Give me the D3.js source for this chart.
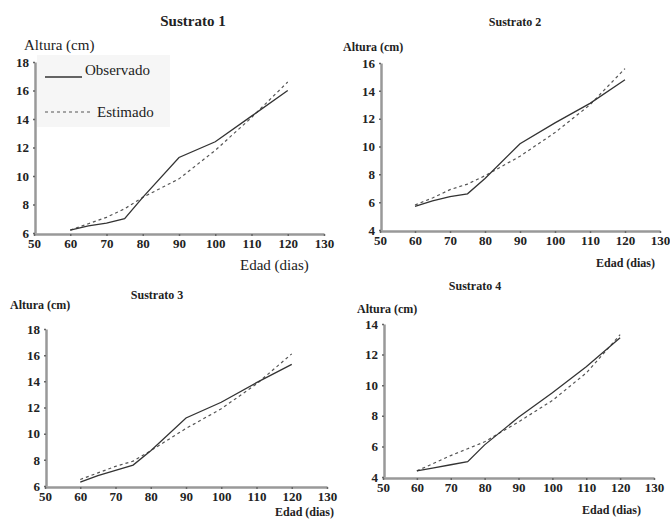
<!DOCTYPE html>
<html>
<head>
<meta charset="utf-8">
<script src="https://cdn.jsdelivr.net/npm/d3@7"></script>
<style>
  body { margin: 0; background: #fff; }
</style>
</head>
<body>
<script>
'use strict';

// edad (dias) where the curves are read
const dias = [60, 65, 70, 75, 80, 90, 100, 110, 120];

// altura (cm) per sustrato
const observado1 = [6.2, 6.5, 6.7, 7.0, 8.5, 11.3, 12.4, 14.2, 16.0];
const estimado1  = [6.2, 6.65, 7.1, 7.7, 8.5, 9.8, 11.8, 14.1, 16.6];
const observado2 = [5.7, 6.1, 6.4, 6.6, 7.7, 10.2, 11.7, 13.1, 14.8];
const estimado2  = [5.8, 6.3, 6.9, 7.3, 7.9, 9.3, 11.0, 13.0, 15.6];
const observado3 = [6.3, 6.8, 7.2, 7.6, 8.7, 11.2, 12.4, 13.9, 15.3];
const estimado3  = [6.5, 7.0, 7.5, 7.9, 8.7, 10.4, 11.9, 13.8, 16.1];
const observado4 = [4.4, 4.6, 4.8, 5.0, 6.1, 7.9, 9.5, 11.2, 13.1];
const estimado4  = [4.4, 4.9, 5.4, 5.85, 6.3, 7.6, 9.0, 10.8, 13.3];

const titulos = ["Sustrato 1", "Sustrato 2", "Sustrato 3", "Sustrato 4"];
const xTicks = [50, 60, 70, 80, 90, 100, 110, 120, 130];
const yTicks1 = [6, 8, 10, 12, 14, 16, 18];
const yTicks2 = [4, 6, 8, 10, 12, 14, 16];
const yTicks3 = [6, 8, 10, 12, 14, 16, 18];
const yTicks4 = [4, 6, 8, 10, 12, 14];
const leyenda = ["Observado", "Estimado"];

const serif = '"Liberation Serif", "Times New Roman", serif';

let svg = d3.select('body').append('svg')
  .attr('width', 670)
  .attr('height', 524);

// where each small chart sits on the page
let panels = [
  { obs: observado1, est: estimado1, yt: yTicks1, xr: [34, 324], yr: [233, 62],
    title: [193, 26, 15], ylab: [24, 50, 15, 'normal'], xlab: [240, 270, 15, 'normal'], legend: true },
  { obs: observado2, est: estimado2, yt: yTicks2, xr: [380, 660], yr: [230, 63],
    title: [515, 26, 12], ylab: [343, 51, 12, 'bold'], xlab: [596, 267, 12, 'bold'] },
  { obs: observado3, est: estimado3, yt: yTicks3, xr: [45, 327], yr: [486, 329],
    title: [157, 299, 12], ylab: [10, 309, 12, 'bold'], xlab: [275, 516, 12, 'bold'] },
  { obs: observado4, est: estimado4, yt: yTicks4, xr: [383, 654], yr: [477, 324],
    title: [475, 290, 12], ylab: [357, 313, 12, 'bold'], xlab: [582, 514, 12, 'bold'] }
];

panels.forEach((p, i) => drawPanel(p, i));

function addText(g, x, y, size, weight, txt) {
  return g.append('text')
    .attr('x', x).attr('y', y)
    .style('font-family', serif)
    .style('font-size', size + 'px')
    .style('font-weight', weight)
    .style('fill', '#222')
    .text(txt);
}

function drawPanel(p, i) {
  let g = svg.append('g');

  let xScale = d3.scaleLinear().domain([50, 130]).range(p.xr);
  let yScale = d3.scaleLinear().domain(d3.extent(p.yt)).range(p.yr);

  // legend box behind the lines (panel 1 only)
  if (p.legend) {
    g.append('rect')
      .attr('x', 37).attr('y', 55)
      .attr('width', 133).attr('height', 72)
      .attr('fill', '#f6f6f6');
  }

  let xAxis = g.append('g')
    .attr('transform', 'translate(0,' + (p.yr[0] + 1) + ')')
    .call(d3.axisBottom(xScale).tickValues(xTicks).tickSize(2).tickSizeOuter(0).tickPadding(3));
  let yAxis = g.append('g')
    .attr('transform', 'translate(' + (p.xr[0] + 1) + ',0)')
    .call(d3.axisLeft(yScale).tickValues(p.yt).tickSize(2).tickSizeOuter(0).tickPadding(4));

  [xAxis, yAxis].forEach(a => {
    a.select('.domain').attr('stroke', '#999').attr('stroke-width', 2.5);
    a.selectAll('.tick line').attr('stroke', '#666').attr('stroke-width', 1.5);
    a.selectAll('.tick text')
      .style('font-family', serif)
      .style('font-size', '13px')
      .style('font-weight', 'bold')
      .style('fill', '#222');
  });

  let line = d3.line()
    .x((d, j) => xScale(dias[j]))
    .y(d => yScale(d));

  g.append('path')
    .datum(p.est)
    .attr('d', line)
    .attr('fill', 'none')
    .attr('stroke', '#555')
    .attr('stroke-width', 1.2)
    .attr('stroke-dasharray', '3,3');

  g.append('path')
    .datum(p.obs)
    .attr('d', line)
    .attr('fill', 'none')
    .attr('stroke', '#333')
    .attr('stroke-width', 1.3);

  // labels
  addText(g, p.title[0], p.title[1], p.title[2], 'bold', titulos[i])
    .attr('text-anchor', 'middle');
  addText(g, p.ylab[0], p.ylab[1], p.ylab[2], p.ylab[3], 'Altura (cm)');
  addText(g, p.xlab[0], p.xlab[1], p.xlab[2], p.xlab[3], 'Edad (dias)');

  if (p.legend) {
    g.append('line')
      .attr('x1', 45).attr('x2', 82).attr('y1', 77).attr('y2', 77)
      .attr('stroke', '#333').attr('stroke-width', 1.3);
    addText(g, 85, 75, 15, 'normal', leyenda[0]);
    g.append('line')
      .attr('x1', 45).attr('x2', 93).attr('y1', 112).attr('y2', 112)
      .attr('stroke', '#555').attr('stroke-width', 1.2)
      .attr('stroke-dasharray', '3,3');
    addText(g, 97, 117, 15, 'normal', leyenda[1]);
  }
}
</script>
</body>
</html>
